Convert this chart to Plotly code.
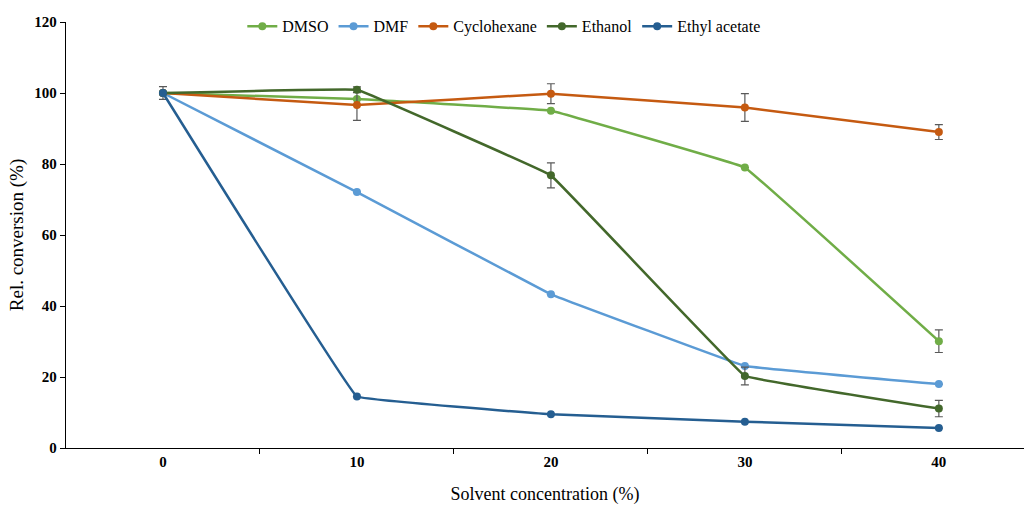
import plotly.graph_objects as go

categories = ["0", "10", "20", "30", "40"]
x_pos = [0, 1, 2, 3, 4]

series_names = ["DMSO", "DMF", "Cyclohexane", "Ethanol", "Ethyl acetate"]
dmso = [100, 98.3, 95.0, 79.0, 30.1]
dmf = [100, 72.1, 43.3, 23.1, 18.0]
cyclohexane = [100, 96.6, 99.8, 95.9, 89.0]
ethanol = [100, 100.9, 76.8, 20.3, 11.1]
ethyl_acetate = [100, 14.5, 9.5, 7.4, 5.6]

err_dmso = [0, 0, 0, 0, 3.2]
err_dmf = [0, 0, 0, 0, 0]
err_cyclohexane = [0, 4.3, 2.8, 3.9, 2.1]
err_ethanol = [0, 0.8, 3.5, 2.5, 2.3]
err_ethyl_acetate = [1.8, 0, 0, 0, 0]

colors = ["#70AD47", "#5B9BD5", "#C55A11", "#43682B", "#255E91"]
values = [dmso, dmf, cyclohexane, ethanol, ethyl_acetate]
errors = [err_dmso, err_dmf, err_cyclohexane, err_ethanol, err_ethyl_acetate]

FONT = "Liberation Serif"

fig = go.Figure()
for name, vals, errs, col in zip(series_names, values, errors, colors):
    fig.add_trace(go.Scatter(
        x=x_pos, y=vals, name=name, mode="lines+markers",
        line=dict(color=col, width=2.5, shape="spline", smoothing=0.1),
        marker=dict(color=col, size=8),
        error_y=dict(type="data", array=errs, visible=True,
                     color="#595959", thickness=1.2, width=4),
    ))

fig.update_layout(
    width=1024, height=506,
    margin=dict(l=66, r=0, t=22, b=58),
    plot_bgcolor="white", paper_bgcolor="white",
    font=dict(family=FONT, size=14, color="#000000"),
    showlegend=True,
    legend=dict(orientation="h", x=0.457, xanchor="center", y=0.99, yanchor="middle",
                font=dict(family=FONT, size=16), bgcolor="rgba(0,0,0,0)",
                itemwidth=30, tracegroupgap=0),
    xaxis=dict(
        range=[-0.5, 4.439], tickmode="array", tickvals=x_pos, ticktext=categories,
        ticks="", showgrid=False, zeroline=False, automargin=False,
        showline=True, linecolor="#000000", linewidth=1.3,
        tickfont=dict(family=FONT, size=15, weight="bold"),
        minor=dict(tickmode="array", tickvals=[0.5, 1.5, 2.5, 3.5], ticks="outside",
                   ticklen=5, tickcolor="#000000", tickwidth=1, showgrid=False),
        title=dict(text="Solvent concentration (%)", font=dict(family=FONT, size=18), standoff=18),
    ),
    yaxis=dict(
        range=[0, 120], tickmode="array", tickvals=[0, 20, 40, 60, 80, 100, 120],
        ticks="outside", ticklen=5, tickcolor="#000000", tickwidth=1,
        showgrid=False, zeroline=False, automargin=False,
        showline=True, linecolor="#000000", linewidth=1.3,
        tickfont=dict(family=FONT, size=15, weight="bold"),
        title=dict(text="Rel. conversion (%)", font=dict(family=FONT, size=19), standoff=5),
    ),
)

fig.write_html("out.html", config={"displayModeBar": False},
               post_script="document.body.style.margin='0px';document.body.style.overflow='hidden';")
